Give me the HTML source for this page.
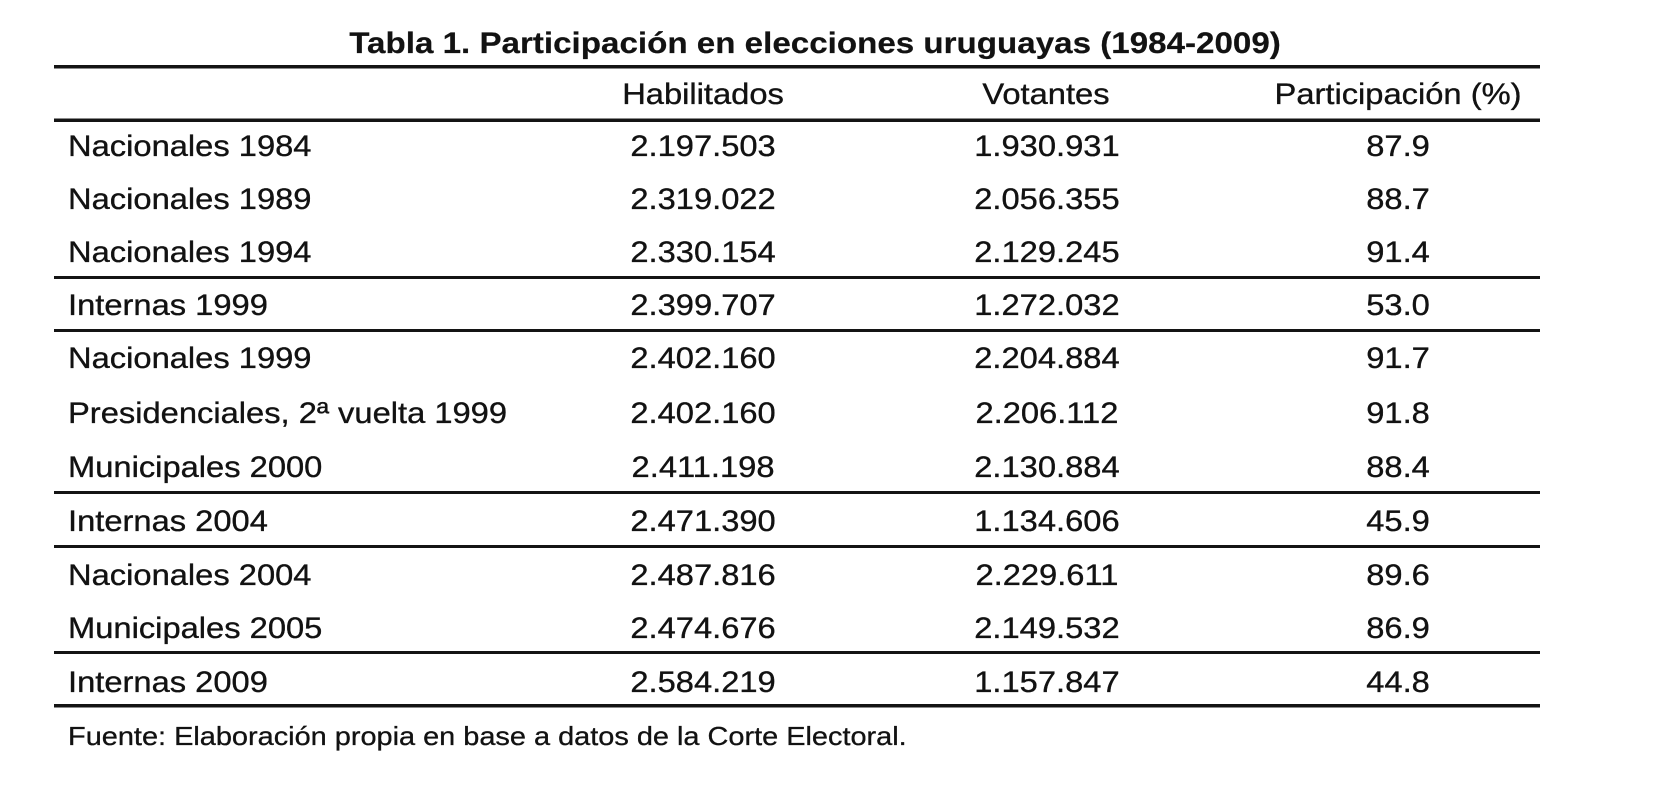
<!DOCTYPE html>
<html>
<head>
<meta charset="utf-8">
<style>
  html, body { margin: 0; padding: 0; background: #ffffff; }
  body { width: 1675px; height: 797px; overflow: hidden; }
  svg { display: block; }
  text { font-family: "Liberation Sans", Arial, sans-serif; fill: #121212; stroke: #121212; stroke-width: 0.35; }
  .b { font-size: 30px; }
  .t { font-size: 30px; font-weight: bold; stroke-width: 0.2; }
  .f { font-size: 26px; stroke-width: 0.3; }
</style>
</head>
<body>
<svg width="1675" height="797" viewBox="0 0 1675 797" xmlns="http://www.w3.org/2000/svg">
  <rect x="0" y="0" width="1675" height="797" fill="#ffffff"/>

  <!-- Title -->
  <g transform="scale(1.105 1)">
    <text class="t" x="737.6" y="53" text-anchor="middle">Tabla 1. Participación en elecciones uruguayas (1984-2009)</text>
  </g>

  <!-- Rules -->
  <g fill="#141414">
    <rect x="54" y="65" width="1486" height="3.5"/>
    <rect x="54" y="118.5" width="1486" height="3.5"/>
    <rect x="54" y="276" width="1486" height="3"/>
    <rect x="54" y="329" width="1486" height="3"/>
    <rect x="54" y="491" width="1486" height="3"/>
    <rect x="54" y="545" width="1486" height="3"/>
    <rect x="54" y="651" width="1486" height="3"/>
    <rect x="54" y="704" width="1486" height="3.5"/>
  </g>

  <!-- Body text, horizontally stretched to match scan -->
  <g transform="scale(1.09 1)">
    <!-- Header -->
    <text class="b" x="645" y="104" text-anchor="middle">Habilitados</text>
    <text class="b" x="959.6" y="104" text-anchor="middle">Votantes</text>
    <text class="b" x="1282.6" y="104" text-anchor="middle">Participación (%)</text>

    <!-- Row labels -->
    <text class="b" x="62.4" y="156">Nacionales 1984</text>
    <text class="b" x="62.4" y="209">Nacionales 1989</text>
    <text class="b" x="62.4" y="262">Nacionales 1994</text>
    <text class="b" x="62.4" y="315">Internas 1999</text>
    <text class="b" x="62.4" y="368">Nacionales 1999</text>
    <text class="b" x="62.4" y="423">Presidenciales, 2ª vuelta 1999</text>
    <text class="b" x="62.4" y="477">Municipales 2000</text>
    <text class="b" x="62.4" y="531">Internas 2004</text>
    <text class="b" x="62.4" y="585">Nacionales 2004</text>
    <text class="b" x="62.4" y="638">Municipales 2005</text>
    <text class="b" x="62.4" y="692">Internas 2009</text>

    <!-- Habilitados -->
    <g text-anchor="middle">
      <text class="b" x="645" y="156">2.197.503</text>
      <text class="b" x="645" y="209">2.319.022</text>
      <text class="b" x="645" y="262">2.330.154</text>
      <text class="b" x="645" y="315">2.399.707</text>
      <text class="b" x="645" y="368">2.402.160</text>
      <text class="b" x="645" y="423">2.402.160</text>
      <text class="b" x="645" y="477">2.411.198</text>
      <text class="b" x="645" y="531">2.471.390</text>
      <text class="b" x="645" y="585">2.487.816</text>
      <text class="b" x="645" y="638">2.474.676</text>
      <text class="b" x="645" y="692">2.584.219</text>
    </g>

    <!-- Votantes -->
    <g text-anchor="middle">
      <text class="b" x="960.5" y="156">1.930.931</text>
      <text class="b" x="960.5" y="209">2.056.355</text>
      <text class="b" x="960.5" y="262">2.129.245</text>
      <text class="b" x="960.5" y="315">1.272.032</text>
      <text class="b" x="960.5" y="368">2.204.884</text>
      <text class="b" x="960.5" y="423">2.206.112</text>
      <text class="b" x="960.5" y="477">2.130.884</text>
      <text class="b" x="960.5" y="531">1.134.606</text>
      <text class="b" x="960.5" y="585">2.229.611</text>
      <text class="b" x="960.5" y="638">2.149.532</text>
      <text class="b" x="960.5" y="692">1.157.847</text>
    </g>

    <!-- Participación -->
    <g text-anchor="middle">
      <text class="b" x="1282.6" y="156">87.9</text>
      <text class="b" x="1282.6" y="209">88.7</text>
      <text class="b" x="1282.6" y="262">91.4</text>
      <text class="b" x="1282.6" y="315">53.0</text>
      <text class="b" x="1282.6" y="368">91.7</text>
      <text class="b" x="1282.6" y="423">91.8</text>
      <text class="b" x="1282.6" y="477">88.4</text>
      <text class="b" x="1282.6" y="531">45.9</text>
      <text class="b" x="1282.6" y="585">89.6</text>
      <text class="b" x="1282.6" y="638">86.9</text>
      <text class="b" x="1282.6" y="692">44.8</text>
    </g>
  </g>

  <!-- Footnote -->
  <g transform="scale(1.112 1)">
    <text class="f" x="61.2" y="745">Fuente: Elaboración propia en base a datos de la Corte Electoral.</text>
  </g>
</svg>
</body>
</html>
